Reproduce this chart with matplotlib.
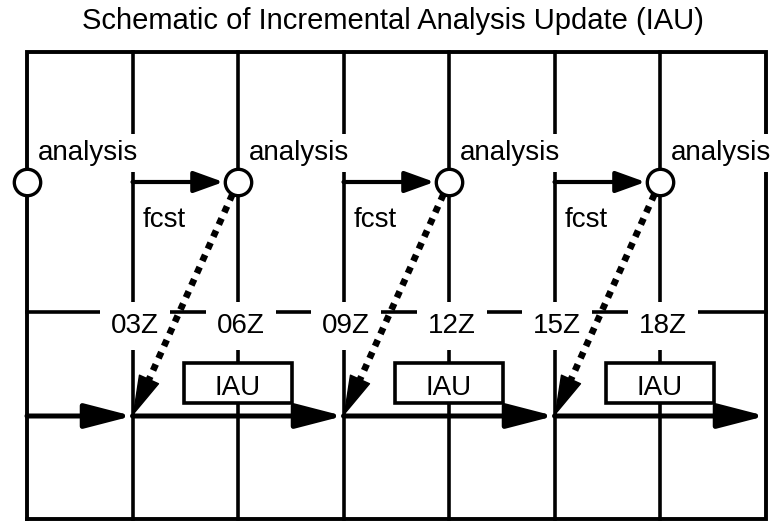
import matplotlib.pyplot as plt
from matplotlib.patches import Rectangle

plt.rcParams['font.family'] = ['Liberation Sans', 'DejaVu Sans']

# grid columns 0..7, one column every 3 hours
n_cols = 7
time_labels = ['03Z', '06Z', '09Z', '12Z', '15Z', '18Z']
time_cols = [1, 2, 3, 4, 5, 6]
analysis_cols = [0, 2, 4, 6]
fcst_from = [1, 3, 5]
fcst_to = [2, 4, 6]
iau_cols = [2, 4, 6]
cycle_cols = [0, 1, 3, 5, 7]   # main time line, one arrow per segment

# rows (measured from the top of the picture, in pixels)
y_top, y_bottom = 52, 519
y_analysis = 160
y_node = 182
y_fcst = 227
y_time, y_time_text = 312, 333
y_iau, iau_h, iau_w = 383, 40, 1.02
y_main = 416

fig = plt.figure(figsize=(7.79, 5.23), dpi=100)
ax = fig.add_axes([0, 0, 1, 1])
ax.set_xlim(-27 / 105.5, n_cols + 13.5 / 105.5)
ax.set_ylim(523, 0)
ax.axis('off')

# frame and grid
ax.plot([0, 0, n_cols, n_cols, 0], [y_bottom, y_top, y_top, y_bottom, y_bottom],
        color='k', lw=2.8, solid_joinstyle='miter', zorder=1)
for c in range(1, n_cols):
    ax.plot([c, c], [y_top, y_bottom], color='k', lw=2.6, zorder=1)
ax.plot([0, n_cols], [y_time, y_time], color='k', lw=2.6, zorder=1)

# time labels break the grid lines
for c, lbl in zip(time_cols, time_labels):
    ax.annotate(lbl, xy=(c, y_time_text), xytext=(2, 0), textcoords='offset points',
                ha='center', va='baseline', fontsize=20,
                bbox=dict(boxstyle='square,pad=0.4', fc='white', ec='none'), zorder=3)

# main time line
for a, b in zip(cycle_cols[:-1], cycle_cols[1:]):
    ax.annotate('', xy=(b, y_main), xytext=(a, y_main),
                arrowprops=dict(arrowstyle='-|>,head_length=29,head_width=7.5',
                                mutation_scale=1, color='k', lw=3.6,
                                shrinkA=0, shrinkB=0), zorder=4)

# IAU boxes
for c in iau_cols:
    ax.add_patch(Rectangle((c - iau_w / 2, y_iau - iau_h / 2), iau_w, iau_h,
                           fc='white', ec='k', lw=2.6, zorder=5))
    ax.text(c, y_iau + 12, 'IAU', ha='center', va='baseline', fontsize=20, zorder=6)

# forecast arrows
for a, b in zip(fcst_from, fcst_to):
    ax.annotate('', xy=(b, y_node), xytext=(a, y_node),
                arrowprops=dict(arrowstyle='-|>,head_length=18,head_width=6.5',
                                mutation_scale=1, color='k', lw=3,
                                shrinkA=0, shrinkB=10.5), zorder=5)
    ax.annotate('fcst', xy=(a, y_fcst), xytext=(7.5, 0), textcoords='offset points',
                ha='left', va='baseline', fontsize=20, zorder=5)

# dotted increments back to the start of each window
t = 0.15
for a, b in zip(fcst_from, fcst_to):
    xb, yb = a + t * (b - a), y_main - t * (y_main - y_node)
    ax.plot([b, xb], [y_node, yb], color='k', lw=4.8,
            linestyle=(0, (1, 1)), dash_capstyle='butt', zorder=6)
    ax.annotate('', xy=(a, y_main), xytext=(xb, yb),
                arrowprops=dict(arrowstyle='-|>,head_length=27,head_width=7.5',
                                mutation_scale=1, color='k', lw=1,
                                shrinkA=0, shrinkB=0), zorder=6)

# analysis nodes
ax.plot(analysis_cols, [y_node] * len(analysis_cols), 'o', ms=19,
        mfc='white', mec='k', mew=2.4, zorder=7)
for c in analysis_cols:
    ax.annotate('analysis', xy=(c, y_analysis), xytext=(8, 0),
                textcoords='offset points', ha='left', va='baseline', fontsize=20,
                bbox=dict(boxstyle='square,pad=0.2', fc='white', ec='none'), zorder=3)

fig.text(393 / 779, 1 - 29 / 523, 'Schematic of Incremental Analysis Update (IAU)',
         ha='center', va='baseline', fontsize=21)

fig.savefig('out.png', dpi=100)
